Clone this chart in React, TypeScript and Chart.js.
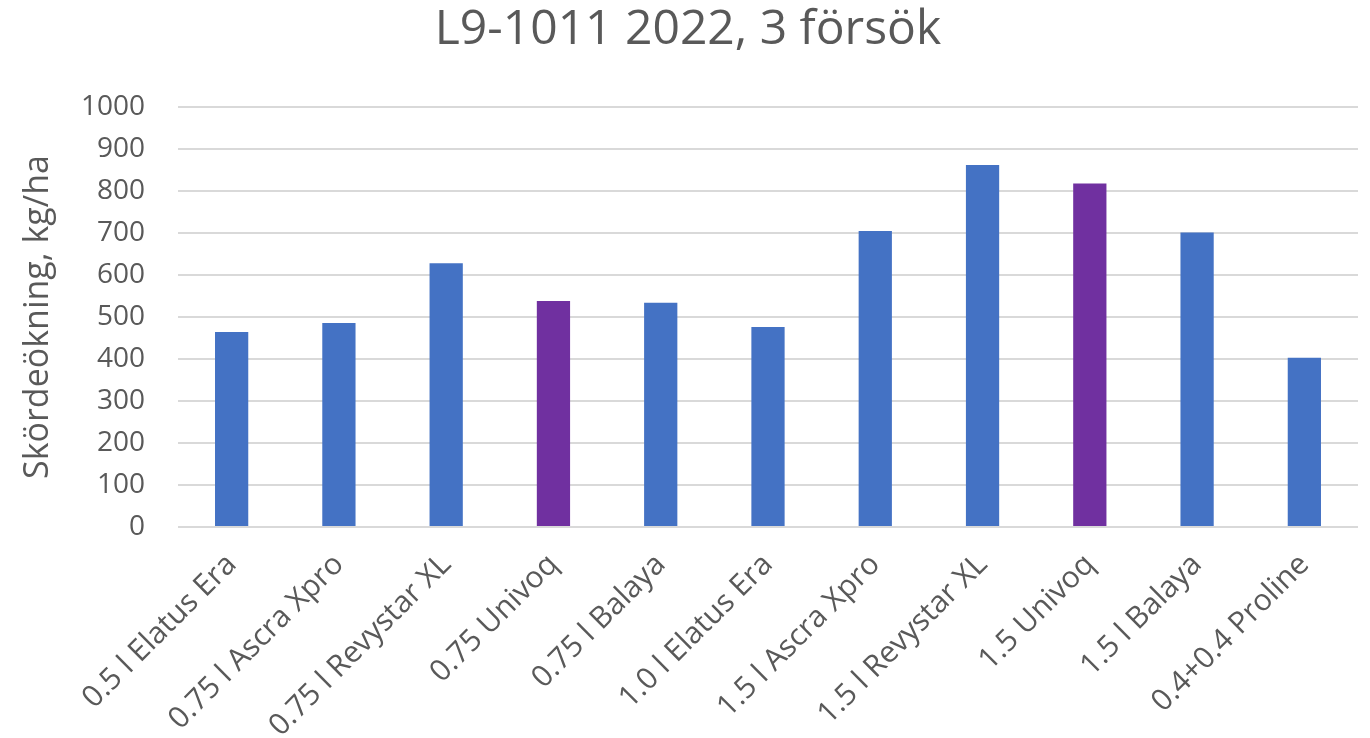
import React, { useEffect, useRef } from "react";
import { Chart, registerables } from "chart.js";

Chart.register(...registerables);

const categories = [
  "0.5 l Elatus Era",
  "0.75 l Ascra Xpro",
  "0.75 l Revystar XL",
  "0.75 Univoq",
  "0.75 l Balaya",
  "1.0 l Elatus Era",
  "1.5 l Ascra Xpro",
  "1.5 l Revystar XL",
  "1.5 Univoq",
  "1.5 l Balaya",
  "0.4+0.4 Proline",
];
const values = [464, 486, 628, 538, 534, 476, 705, 862, 818, 701, 403];
const highlighted = [false, false, false, true, false, false, false, false, true, false, false];
const titleText = "L9-1011 2022, 3 försök";
const yAxisTitle = "Skördeökning, kg/ha";
const yMin = 0;
const yMax = 1000;
const yStep = 100;

const BLUE = "#4472C4";
const PURPLE = "#7030A0";
const TEXT = "#595959";
const GRID = "#d9d9d9";
const FONT = "'Open Sans', sans-serif";

export default function App() {
  const ref = useRef<HTMLCanvasElement | null>(null);
  useEffect(() => {
    if (!ref.current) return;
    const chart = new Chart(ref.current, {
      type: "bar",
      data: {
        labels: categories,
        datasets: [
          {
            data: values,
            backgroundColor: highlighted.map((h) => (h ? PURPLE : BLUE)),
            borderWidth: 0,
            categoryPercentage: 1,
            barPercentage: 0.31,
          },
        ],
      },
      options: {
        animation: false,
        responsive: false,
        maintainAspectRatio: false,
        layout: { padding: { left: 18, right: 12, top: 0, bottom: 0 } },
        plugins: {
          legend: { display: false },
          tooltip: { enabled: false },
          title: {
            display: true,
            text: titleText,
            color: TEXT,
            font: { family: FONT, size: 48, weight: "normal", lineHeight: 1.2 },
            padding: { top: 2, bottom: 47.4 },
          },
        },
        scales: {
          x: {
            grid: { display: false, drawTicks: false },
            border: { display: false },
            ticks: {
              color: TEXT,
              font: { family: FONT, size: 30 },
              minRotation: 45,
              maxRotation: 45,
              autoSkip: false,
              padding: 20,
            },
            afterFit: (scale: any) => {
              scale.height = 211;
            },
          },
          y: {
            min: yMin,
            max: yMax,
            grid: { color: GRID, lineWidth: 2, drawTicks: false },
            border: { display: false },
            ticks: {
              stepSize: yStep,
              color: TEXT,
              font: { family: FONT, size: 28 },
              padding: 33,
              callback: (v: any) => String(v),
            },
            title: {
              display: true,
              text: yAxisTitle,
              color: TEXT,
              font: { family: FONT, size: 34 },
              padding: { top: 0, bottom: 0 },
            },
            afterFit: (scale: any) => {
              scale.width = 160;
            },
          },
        },
      },
    });
    return () => chart.destroy();
  }, []);
  return (
    <div style={{ position: "fixed", left: 0, top: 0, width: 1370, height: 738, background: "#fff", overflow: "hidden" }}>
      <canvas ref={ref} width={1370} height={738} />
    </div>
  );
}
